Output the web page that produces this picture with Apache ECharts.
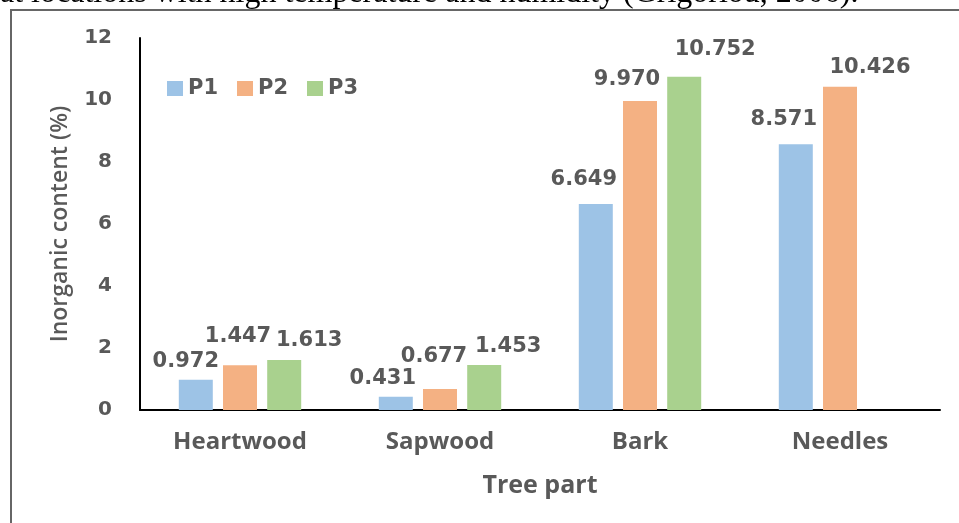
<!DOCTYPE html>
<html><head><meta charset="utf-8">
<script src="https://cdn.jsdelivr.net/npm/echarts@6/dist/echarts.min.js"></script>
<style>html,body{margin:0;padding:0;background:#fff}#c{width:959px;height:523px}</style>
</head><body><div id="c"></div>
<script>
const categories = ['Heartwood', 'Sapwood', 'Bark', 'Needles'];
const seriesNames = ['P1', 'P2', 'P3'];
const p1 = [0.972, 0.431, 6.649, 8.571];
const p2 = [1.447, 0.677, 9.970, 10.426];
const p3 = [1.613, 1.453, 10.752, null];
const yTicks = [0, 2, 4, 6, 8, 10, 12];

// label nudges (pixels) reproducing the hand-placed labels
const labelOffsets = [
  [[-10, -3], [-13, -3], [-12, -9], [-12, -9]],
  [[-2, -13], [-6, -17], [-13, -6], [30, -4]],
  [[25, -4], [24, -3], [31, -12], [0, 0]]
];
const colors = ['#9DC3E6', '#F4B183', '#A9D18E'];
const txt = '#595959';
const numFont = 'DejaVu Sans';
const catFont = '"Open Sans", sans-serif';

const chart = echarts.init(document.getElementById('c'));
const allData = [p1, p2, p3];
chart.setOption({
  animation: false,
  graphic: [
    { type: 'text', left: 0, top: -22, style: { text: 'at locations with high temperature and humidity (Grigoriou, 2006).', font: '32px "Liberation Serif", serif', fill: '#000' } },
    { type: 'line', shape: { x1: 10, y1: 10, x2: 959, y2: 10 }, style: { stroke: '#666', lineWidth: 2 } },
    { type: 'line', shape: { x1: 11, y1: 9, x2: 11, y2: 523 }, style: { stroke: '#666', lineWidth: 2 } }
  ],
  legend: {
    left: 162, top: 73, itemWidth: 16, itemHeight: 15, itemGap: 19,
    icon: 'rect',
    textStyle: { color: txt, fontFamily: numFont, fontWeight: 'bold', fontSize: 21 },
    data: seriesNames
  },
  grid: { left: 140, right: 19, top: 38, bottom: 113 },
  xAxis: {
    type: 'category', data: categories,
    name: 'Tree part', nameLocation: 'middle', nameGap: 63,
    nameTextStyle: { color: txt, fontFamily: catFont, fontWeight: 'bold', fontSize: 25 },
    axisLine: { lineStyle: { color: '#000', width: 2 } },
    axisTick: { show: false },
    axisLabel: { color: txt, fontFamily: catFont, fontWeight: 'bold', fontSize: 24, margin: 20 }
  },
  yAxis: {
    type: 'value', min: 0, max: 12, interval: 2,
    name: 'Inorganic content (%)', nameLocation: 'middle', nameGap: 68,
    nameTextStyle: { color: txt, fontFamily: catFont, fontWeight: 600, fontSize: 23 },
    axisLine: { show: true, lineStyle: { color: '#000', width: 2 } },
    axisTick: { show: false },
    splitLine: { show: false },
    axisLabel: { color: txt, fontFamily: numFont, fontWeight: 'bold', fontSize: 20, margin: 28,
      formatter: v => yTicks.includes(v) ? String(v) : '' }
  },
  series: allData.map((arr, si) => ({
    name: seriesNames[si], type: 'bar', barWidth: 34, barGap: '30%',
    itemStyle: { color: colors[si] },
    label: { show: true, position: 'top', color: txt, fontFamily: numFont, fontWeight: 'bold', fontSize: 21,
      formatter: p => p.value == null ? '' : p.value.toFixed(3) },
    data: arr.map((v, i) => ({ value: v, label: { offset: labelOffsets[si][i] } }))
  }))
});
</script></body></html>
